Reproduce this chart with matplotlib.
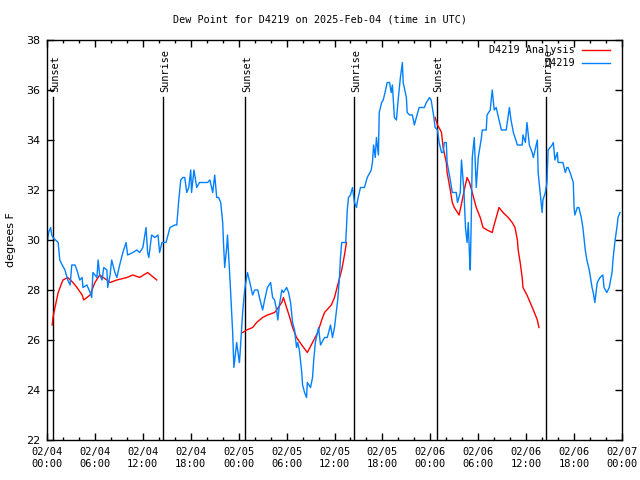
import numpy as np
import matplotlib
matplotlib.use('Agg')
import matplotlib.pyplot as plt
from matplotlib.ticker import MultipleLocator
from datetime import datetime, timedelta

plt.rcParams['font.family'] = 'DejaVu Sans'
plt.rcParams['font.size'] = 8

# hours since 2025-02-04 00:00 UTC
station_hours = [
    0.0, 0.2, 0.45, 0.6, 0.75, 1.4, 1.6, 1.9, 2.25, 2.6, 2.9, 3.1, 3.5, 3.75, 4.1,
    4.4, 4.5, 5.0, 5.4, 5.6, 5.75, 6.25, 6.4, 6.6, 6.9, 7.1, 7.5, 7.6, 7.9, 8.1,
    8.5, 8.75, 9.1, 9.5, 9.9, 10.1, 10.75, 11.25, 11.6, 12.0, 12.4, 12.6, 12.75,
    13.1, 13.5, 13.9, 14.1, 14.4, 14.9, 15.4, 16.0, 16.25, 16.5, 16.75, 17.0,
    17.25, 17.5, 17.75, 18.0, 18.1, 18.4, 18.75, 19.1, 20.1, 20.4, 20.75, 21.0,
    21.25, 21.5, 21.75, 22.0, 22.1, 22.25, 22.5, 22.6, 22.9, 23.1, 23.25, 23.4,
    23.75, 24.0, 24.1, 24.5, 24.75, 25.1, 25.4, 25.75, 26.0, 26.4, 26.6, 27.0,
    27.25, 27.6, 28.0, 28.25, 28.5, 28.75, 28.9, 29.1, 29.4, 29.6, 30.0, 30.25,
    30.5, 30.75, 31.0, 31.25, 31.4, 31.6, 31.9, 32.0, 32.25, 32.5, 32.6, 33.0,
    33.25, 33.4, 33.6, 34.0, 34.25, 34.75, 35.1, 35.5, 35.75, 36.0, 36.25, 36.4,
    36.6, 36.75, 36.9, 37.4, 37.5, 37.6, 37.75, 38.0, 38.25, 38.5, 38.75, 38.9,
    39.25, 39.75, 40.1, 40.6, 40.75, 40.9, 41.1, 41.25, 41.5, 41.6, 41.9, 42.1,
    42.4, 42.6, 42.9, 43.1, 43.25, 43.5, 43.75, 44.0, 44.25, 44.5, 44.6, 45.0,
    45.1, 45.4, 45.75, 46.0, 46.25, 46.6, 47.25, 47.5, 47.9, 48.1, 48.4, 48.6,
    48.9, 49.1, 49.4, 49.6, 49.75, 50.0, 50.1, 50.5, 50.75, 51.25, 51.4, 51.75,
    51.9, 52.2, 52.4, 52.6, 52.75, 52.9, 53.0, 53.1, 53.25, 53.5, 53.75, 54.0,
    54.4, 54.5, 55.0, 55.1, 55.5, 55.75, 56.0, 56.25, 56.6, 56.9, 57.5, 57.9,
    58.1, 58.4, 58.9, 59.5, 59.6, 59.9, 60.1, 60.4, 60.75, 60.9, 61.4, 61.5,
    61.75, 62.0, 62.1, 62.4, 62.6, 62.75, 63.25, 63.4, 63.6, 63.9, 64.0, 64.25,
    64.6, 64.9, 65.1, 65.25, 65.5, 65.9, 66.0, 66.1, 66.4, 66.6, 66.9, 67.1,
    67.4, 67.6, 67.9, 68.25, 68.4, 68.6, 68.9, 69.25, 69.6, 69.75, 70.1, 70.4,
    70.75, 70.9, 71.1, 71.4, 71.5, 71.75,
]
station_dewpt = [
    29.8, 30.3, 30.5, 30.2, 30.1, 29.9, 29.2, 29.0, 28.8, 28.4, 28.2, 29.0, 29.0, 28.8, 28.4,
    28.5, 28.1, 28.2, 27.9, 27.7, 28.7, 28.5, 29.2, 28.6, 28.4, 28.9, 28.8, 28.1, 28.6, 29.2,
    28.7, 28.5, 29.0, 29.5, 29.9, 29.4, 29.5, 29.6, 29.5, 29.7, 30.5, 29.5, 29.3,
    30.2, 30.1, 30.2, 29.5, 29.9, 29.9, 30.5, 30.6, 30.6, 31.6, 32.4, 32.5,
    32.5, 31.9, 32.1, 32.8, 31.9, 32.8, 32.1, 32.3, 32.3, 32.4, 31.9, 32.6,
    31.7, 31.7, 31.5, 30.7, 29.9, 28.9, 29.7, 30.2, 28.5, 27.2, 26.3, 24.9,
    25.9, 25.3, 25.1, 27.1, 28.0, 28.7, 28.3, 27.8, 28.0, 28.0, 27.7, 27.2,
    27.6, 28.1, 28.3, 27.7, 27.6, 27.2, 26.8, 27.4, 28.0, 27.9, 28.1, 27.9,
    27.5, 26.7, 26.4, 25.7, 25.9, 25.6, 24.7, 24.2, 23.9, 23.7, 24.3, 24.1,
    24.5, 25.2, 25.9, 26.5, 25.8, 26.1, 26.1, 26.6, 26.1, 26.5, 27.2, 27.6,
    28.4, 29.3, 29.9, 29.9, 30.5, 31.2, 31.7, 31.8, 32.1, 31.5, 31.3, 31.6,
    32.1, 32.1, 32.5, 32.8, 33.1, 33.8, 33.3, 34.1, 33.4, 35.1, 35.5, 35.6,
    36.0, 36.3, 36.3, 35.9, 36.2, 34.9, 34.8, 35.7, 36.5, 37.1, 36.3, 35.7,
    35.1, 35.0, 35.0, 34.6, 34.9, 35.3, 35.3, 35.5, 35.7, 35.6, 35.0, 34.5,
    34.4, 33.9, 33.5, 33.5, 33.9, 33.9, 33.1, 32.4, 31.9, 31.9, 31.5, 31.9,
    33.2, 32.0, 30.5, 29.9, 30.7, 29.4, 28.8, 30.4, 33.3, 34.1, 32.1, 33.3,
    34.1, 34.4, 34.4, 35.0, 35.2, 36.0, 35.2, 35.3, 34.8, 34.4, 34.4, 35.3,
    34.8, 34.3, 33.8, 33.8, 34.2, 33.9, 34.7, 33.8, 33.5, 33.3, 34.0, 32.7,
    31.9, 31.1, 31.6, 31.9, 32.3, 33.6, 33.8, 33.9, 33.2, 33.5, 33.1, 33.1,
    33.1, 32.7, 32.9, 32.9, 32.7, 32.3, 31.3, 31.0, 31.3, 31.3, 30.9, 30.5,
    29.6, 29.2, 28.8, 28.1, 27.9, 27.5, 28.3, 28.5, 28.6, 28.1, 27.9, 28.1,
    28.7, 29.3, 29.9, 30.6, 30.9, 31.1,
]

# analysis series, three separate runs (nan = gap)
nan = np.nan
analysis_hours = [
    0.65, 0.75, 1.0, 1.4, 1.75, 2.0, 2.6, 3.25, 3.75, 4.4, 4.6, 5.4, 6.0, 6.6, 7.5,
    7.9, 8.75, 10.0, 10.75, 11.6, 12.6, 13.75, 14.0,
    24.5, 25.0, 25.75, 26.25, 27.0, 27.6, 28.5, 28.75, 29.4, 29.6, 30.0, 30.4,
    30.75, 31.25, 31.9, 32.6, 33.25, 33.9, 34.4, 34.75, 35.6, 36.0, 36.4, 36.9,
    37.25, 37.5, 37.6,
    48.6, 48.9, 49.25, 49.4, 49.6, 50.0, 50.1, 50.5, 50.75, 51.0, 51.4, 51.6,
    52.0, 52.25, 52.6, 52.9, 53.25, 53.75, 54.25, 54.6, 55.1, 55.75, 55.9, 56.25,
    56.6, 57.1, 57.75, 58.25, 58.6, 58.9, 59.0, 59.25, 59.5, 59.6, 60.1, 60.5,
    60.9, 61.4, 61.6,
]
analysis_dewpt = [
    26.6, 26.9, 27.3, 27.9, 28.2, 28.4, 28.5, 28.3, 28.1, 27.8, 27.6, 27.8, 28.3, 28.6, 28.4,
    28.3, 28.4, 28.5, 28.6, 28.5, 28.7, 28.4, nan,
    26.3, 26.4, 26.5, 26.7, 26.9, 27.0, 27.1, 27.2, 27.5, 27.7, 27.3, 26.9,
    26.5, 26.1, 25.8, 25.5, 25.9, 26.3, 26.8, 27.1, 27.4, 27.7, 28.2, 28.8,
    29.4, 29.9, nan,
    34.9, 34.6, 34.4, 34.3, 33.7, 33.1, 32.7, 32.0, 31.5, 31.3, 31.1, 31.0,
    31.6, 32.0, 32.5, 32.3, 31.9, 31.3, 30.9, 30.5, 30.4, 30.3, 30.5, 30.9,
    31.3, 31.1, 30.9, 30.7, 30.5, 30.0, 29.6, 29.1, 28.5, 28.1, 27.8, 27.5,
    27.2, 26.8, 26.5,
]

sun_events = ['Sunset', 'Sunrise', 'Sunset', 'Sunrise', 'Sunset', 'Sunrise']
sun_hours = [0.75, 14.5, 24.8, 38.5, 48.8, 62.5]

start = datetime(2025, 2, 4)
tick_hours = list(range(0, 73, 6))
tick_labels = [(start + timedelta(hours=h)).strftime('%m/%d\n%H:%M') for h in tick_hours]

mono = 'DejaVu Sans Mono'

fig = plt.figure(figsize=(6.4, 4.8), dpi=100)
ax = fig.add_axes([47 / 640, 40 / 480, 575 / 640, 400 / 480])

for h, name in zip(sun_hours, sun_events):
    ax.axvline(h, ymin=0, ymax=0.8575, color='black', linewidth=1)
    ax.text(h + 0.25, 35.9, name, rotation=90, ha='center', va='bottom',
            family=mono, fontsize=7.4)

ax.plot(analysis_hours, analysis_dewpt, color='#ff0000', linewidth=1)
ax.plot(station_hours, station_dewpt, color='#0080ff', linewidth=1)

ax.set_xlim(0, 72)
ax.set_ylim(22, 38)
ax.set_xticks(tick_hours)
ax.set_xticklabels(tick_labels, family=mono, fontsize=7.5)
ax.xaxis.set_minor_locator(MultipleLocator(2))
ax.set_yticks(range(22, 39, 2))
ax.tick_params(axis='both', which='major', direction='in', length=5, top=True, right=True, width=1)
ax.tick_params(axis='x', which='minor', direction='in', length=2.5, top=True, width=1)
ax.tick_params(axis='x', pad=5)
ax.tick_params(axis='y', pad=5)
for s in ax.spines.values():
    s.set_linewidth(1)

ax.set_ylabel('degrees F', fontsize=8)
ax.yaxis.set_label_coords(-31 / 575, 0.5)
fig.text(0.5, 1 - 20 / 480, 'Dew Point for D4219 on 2025-Feb-04 (time in UTC)',
         ha='center', va='center', family=mono, fontsize=7.3)

# legend, gnuplot style (text right-aligned, sample line after it)
for i, (lbl, col) in enumerate([('D4219 Analysis', '#ff0000'), ('D4219', '#0080ff')]):
    y = 1 - (10 + 13 * i) / 400
    ax.text(528 / 575, y, lbl, transform=ax.transAxes, ha='right', va='center',
            family=mono, fontsize=7.3)
    ax.plot([535 / 575, 563 / 575], [y, y], transform=ax.transAxes, color=col, linewidth=1)

fig.savefig('out.png', dpi=100)
